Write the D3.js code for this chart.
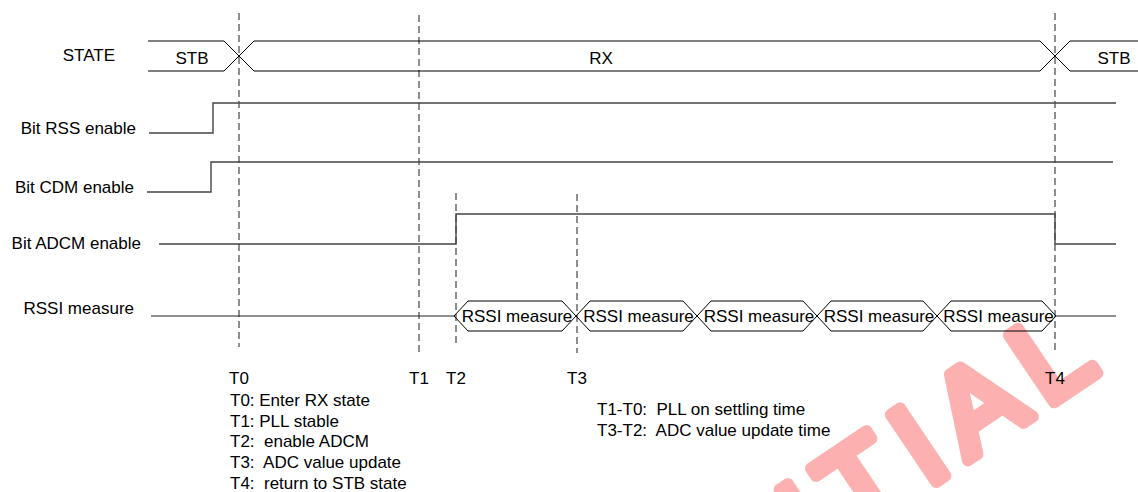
<!DOCTYPE html>
<html>
<head>
<meta charset="utf-8">
<script src="https://cdn.jsdelivr.net/npm/d3@7"></script>
<style>
  body { margin: 0; background: #fff; }
  svg { display: block; }
  text { font-family: "Liberation Sans", Arial, sans-serif; font-size: 17px; fill: #000; }
</style>
</head>
<body>
<div class="chart"></div>
<script>
// signal rows
var signals = ["STATE", "Bit RSS enable", "Bit CDM enable", "Bit ADCM enable", "RSSI measure"];

// time markers (arbitrary time units)
var markers = ["T0", "T1", "T2", "T3", "T4"];
var markerTimes = [91, 271, 308, 429, 907];

// state bus segments
var stateNames = ["STB", "RX", "STB"];
var stateStart = [0, 91, 907];
var stateEnd = [91, 907, 990];

// bit signals: [time, level]
var rssBits = [[1, 0], [65, 1], [968, 1]];
var cdmBits = [[-1, 0], [63, 1], [965, 1]];
var adcmBits = [[11, 0], [308, 1], [907, 0], [968, 0]];

// rssi measurement windows
var rssiIdle = [[3, 306], [908, 968]];
var rssiStart = [306, 428, 549, 669, 789];
var rssiEnd = [428, 549, 669, 789, 908];

// notes
var notesLeft = ["T0: Enter RX state", "T1: PLL stable", "T2:  enable ADCM", "T3:  ADC value update", "T4:  return to STB state"];
var notesRight = ["T1-T0:  PLL on settling time", "T3-T2:  ADC value update time"];

var w = 1138;
var h = 492;

var svg = d3.select(".chart")
            .append("svg")
            .attr("width", w)
            .attr("height", h);

var x = d3.scaleLinear()
          .domain([0, 990])
          .range([148, 1138]);

var row = d3.scaleOrdinal()
            .domain(signals)
            .range([56, 118, 177, 229, 316]);

var half = 15;     // half swing of a signal
var slant = 15;    // bus crossing half width (px)

// watermark, underneath everything
svg.append("text")
    .attr("transform", "translate(1114,362) rotate(-34)")
    .attr("text-anchor", "end")
    .style("font-size", "118px")
    .style("letter-spacing", "16px")
    .style("fill", "#fcb0b0")
    .style("stroke", "#fcb0b0")
    .style("stroke-width", 12)
    .style("stroke-linejoin", "round")
    .style("stroke-linecap", "round")
    .text("CONFIDENTIAL");

// dashed time markers
var markerTop = [13, 15, 193, 194, 13];
var markerBottom = [347, 353, 347, 353, 352];

svg.append("g")
    .selectAll("line")
    .data(markerTimes)
    .join("line")
      .attr("x1", function(d){ return x(d); })
      .attr("x2", function(d){ return x(d); })
      .attr("y1", function(d, i){ return markerTop[i]; })
      .attr("y2", function(d, i){ return markerBottom[i]; })
      .attr("stroke", "#444")
      .attr("stroke-width", 1.2)
      .attr("stroke-dasharray", "7,4");

svg.append("g")
    .selectAll("text")
    .data(markers)
    .join("text")
      .attr("x", function(d, i){ return x(markerTimes[i]); })
      .attr("y", 384)
      .attr("text-anchor", "middle")
      .text(function(d){ return d; });

// row labels
var labelDy = [5, 16, 16, 20, -2];
var labelEnd = [115, 136, 134, 141, 134];
svg.append("g")
    .selectAll("text")
    .data(signals)
    .join("text")
      .attr("x", function(d, i){ return labelEnd[i]; })
      .attr("y", function(d, i){ return row(d) + labelDy[i]; })
      .attr("text-anchor", "end")
      .text(function(d){ return d; });

// state bus
var yS = row("STATE");
svg.append("g")
    .selectAll("path")
    .data(stateNames)
    .join("path")
      .attr("d", function(d, i){
        var a = x(stateStart[i]), b = x(stateEnd[i]);
        var la = i == 0 ? 0 : slant;
        var lb = i == stateNames.length - 1 ? 0 : slant;
        var p = d3.path();
        // top
        if(la) { p.moveTo(a, yS); p.lineTo(a + la, yS - half); } else { p.moveTo(a, yS - half); }
        p.lineTo(b - lb, yS - half);
        if(lb) p.lineTo(b, yS);
        // bottom
        if(la) { p.moveTo(a, yS); p.lineTo(a + la, yS + half); } else { p.moveTo(a, yS + half); }
        p.lineTo(b - lb, yS + half);
        if(lb) p.lineTo(b, yS);
        return p.toString();
      })
      .attr("fill", "none")
      .attr("stroke", "#000")
      .attr("stroke-width", 1);

svg.append("g")
    .selectAll("text")
    .data(stateNames)
    .join("text")
      .attr("x", function(d, i){
        if(i == 0) return 192;
        if(i == stateNames.length - 1) return 1114;
        return 601;
      })
      .attr("y", yS + 8)
      .attr("text-anchor", "middle")
      .text(function(d){ return d; });

// bit signals
var bits = [["Bit RSS enable", rssBits], ["Bit CDM enable", cdmBits], ["Bit ADCM enable", adcmBits]];

svg.append("g")
    .selectAll("path")
    .data(bits)
    .join("path")
      .attr("d", function(d){
        var line = d3.line()
                     .curve(d3.curveStepAfter)
                     .x(function(p){ return x(p[0]); })
                     .y(function(p){ return row(d[0]) + (p[1] ? -half : half); });
        return line(d[1]);
      })
      .attr("fill", "none")
      .attr("stroke", "#444")
      .attr("stroke-width", 1.4);

// rssi measure
var yR = row("RSSI measure");
svg.append("g")
    .selectAll("line")
    .data(rssiIdle)
    .join("line")
      .attr("x1", function(d){ return x(d[0]); })
      .attr("x2", function(d){ return x(d[1]); })
      .attr("y1", yR)
      .attr("y2", yR)
      .attr("stroke", "#222")
      .attr("stroke-width", 1.2);

var rs = 14;
svg.append("g")
    .selectAll("path")
    .data(rssiStart)
    .join("path")
      .attr("d", function(d, i){
        var a = x(d), b = x(rssiEnd[i]);
        var p = d3.path();
        p.moveTo(a, yR);
        p.lineTo(a + rs, yR - half);
        p.lineTo(b - rs, yR - half);
        p.lineTo(b, yR);
        p.lineTo(b - rs, yR + half);
        p.lineTo(a + rs, yR + half);
        p.closePath();
        return p.toString();
      })
      .attr("fill", "none")
      .attr("stroke", "#000")
      .attr("stroke-width", 1);

svg.append("g")
    .selectAll("text")
    .data(rssiStart)
    .join("text")
      .attr("x", function(d, i){ return (x(d) + x(rssiEnd[i])) / 2 + 2; })
      .attr("y", yR + 6)
      .attr("text-anchor", "middle")
      .text("RSSI measure");

// notes
svg.append("g")
    .selectAll("text")
    .data(notesLeft)
    .join("text")
      .attr("x", 230)
      .attr("y", function(d, i){ return 406 + i * 20.7; })
      .attr("xml:space", "preserve")
      .style("white-space", "pre")
      .text(function(d){ return d; });

svg.append("g")
    .selectAll("text")
    .data(notesRight)
    .join("text")
      .attr("x", 597)
      .attr("y", function(d, i){ return 415 + i * 21; })
      .attr("xml:space", "preserve")
      .style("white-space", "pre")
      .text(function(d){ return d; });
</script>
</body>
</html>
